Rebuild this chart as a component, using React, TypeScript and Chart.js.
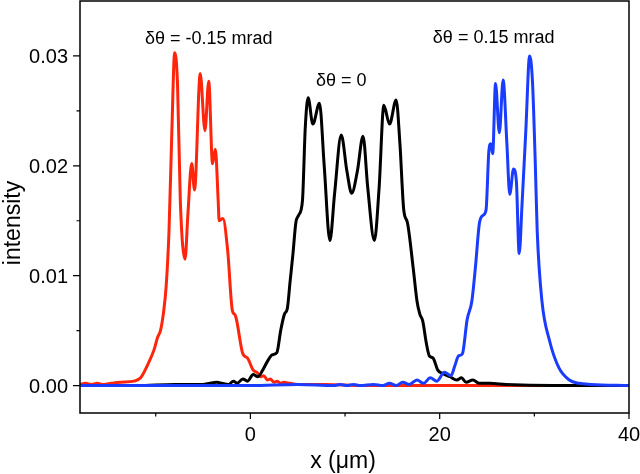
import React, { useEffect, useRef } from "react";
import { Chart, registerables } from "chart.js";

Chart.register(...registerables);

// ---- data (x in µm, intensity) ----
const redX = [-18, -17.4, -16.8, -16.2, -15.5, -14.7, -13.7, -12.3, -11.6, -10.9, -10.2, -9.8, -9.5, -9.2, -8.9, -8.6, -8.3, -8.0, -7.7, -7.4, -6.9, -6.6, -6.2, -5.9, -5.3, -4.8, -4.4, -4.0, -3.7, -3.4, -3.3, -2.9, -2.4, -1.9, -1.6, -0.8, -0.3, 0.3, 0.7, 1.1, 1.4, 1.8, 2.1, 2.5, 2.8, 3.2, 3.5, 4.2, 5.0, 6.0, 8.0, 12.0, 20.0, 30.0, 40.0];
const redY = [0.0001, 0.0002, 0.0001, 0.0002, 0.0001, 0.0002, 0.0003, 0.0004, 0.0007, 0.0018, 0.0032, 0.0044, 0.005, 0.0065, 0.009, 0.014, 0.023, 0.0303, 0.0275, 0.0168, 0.0115, 0.0156, 0.0202, 0.0178, 0.0284, 0.0232, 0.0277, 0.0202, 0.0215, 0.0168, 0.015, 0.0152, 0.0123, 0.0068, 0.0064, 0.0029, 0.0025, 0.0014, 0.0012, 0.0008, 0.0009, 0.0005, 0.0006, 0.0003, 0.0004, 0.0002, 0.0003, 0.0002, 0.0001, 0.0001, 0.0001, 0.0, 0.0, 0.0, 0.0];

const blackX = [-18, -12, -8, -5, -3.5, -3.0, -2.3, -1.8, -1.4, -0.8, -0.3, 0.3, 0.8, 1.3, 1.8, 2.3, 2.8, 3.2, 3.6, 3.9, 4.2, 4.5, 4.8, 5.1, 5.5, 5.8, 6.1, 6.6, 7.3, 7.8, 8.4, 8.9, 9.6, 10.2, 10.7, 11.3, 11.9, 12.4, 13.1, 13.6, 14.1, 14.7, 15.4, 15.8, 16.2, 16.6, 17.2, 17.6, 17.9, 18.2, 18.6, 18.9, 19.3, 19.8, 20.3, 21.1, 21.8, 22.3, 22.8, 23.5, 24.2, 25.3, 27.0, 32.0, 40.0];
const blackY = [0.0, 0.0, 0.0001, 0.0001, 0.0003, 0.0002, 0.0001, 0.0004, 0.0002, 0.0006, 0.0004, 0.001, 0.0008, 0.0014, 0.0022, 0.0028, 0.003, 0.005, 0.0065, 0.007, 0.0095, 0.012, 0.0148, 0.0155, 0.0168, 0.0235, 0.0262, 0.0238, 0.0257, 0.02, 0.0132, 0.0175, 0.0228, 0.0195, 0.0175, 0.0195, 0.0227, 0.018, 0.0132, 0.018, 0.0255, 0.0238, 0.026, 0.022, 0.016, 0.0148, 0.0107, 0.0077, 0.0065, 0.0059, 0.0038, 0.0027, 0.0025, 0.0014, 0.0011, 0.0008, 0.0005, 0.0007, 0.0003, 0.0005, 0.0002, 0.0002, 0.0001, 0.0, 0.0];

const blueX = [-18, -5, 0, 5, 8.8, 9.5, 10.2, 10.9, 11.6, 13.0, 14.0, 14.7, 15.4, 16.1, 16.8, 17.6, 18.3, 19.0, 19.7, 20.5, 21.2, 21.6, 22.0, 22.4, 22.9, 23.4, 23.8, 24.2, 24.6, 24.9, 25.2, 25.4, 25.6, 25.9, 26.3, 26.7, 27.1, 27.4, 27.8, 28.1, 28.4, 28.7, 29.1, 29.5, 29.8, 30.1, 30.3, 30.8, 31.6, 32.6, 33.7, 34.7, 36.0, 40.0];
const blueY = [0.0, 0.0, 0.0, 0.0001, 0.0, 0.0001, 0.0, 0.0001, 0.0, 0.0001, 0.0, 0.0002, 0.0, 0.0003, 0.0001, 0.0005, 0.0002, 0.0007, 0.0004, 0.0012, 0.0009, 0.0018, 0.0027, 0.0029, 0.006, 0.0077, 0.011, 0.0148, 0.0155, 0.016, 0.0214, 0.022, 0.0211, 0.0275, 0.023, 0.0278, 0.022, 0.0174, 0.0197, 0.0186, 0.012, 0.0165, 0.0232, 0.03, 0.0277, 0.0202, 0.0141, 0.0077, 0.0041, 0.0016, 0.0005, 0.0002, 0.0001, 0.0];

const xMajorTicks = [0, 20, 40];
const xMinorTicks = [-10, 10, 30];
const xTickLabels = ["0", "20", "40"];
const yMajorTicks = [0, 0.01, 0.02, 0.03];
const yMinorTicks = [0.005, 0.015, 0.025];
const yTickLabels = ["0.00", "0.01", "0.02", "0.03"];

const annotationTexts = ["δθ = -0.15 mrad", "δθ = 0", "δθ = 0.15 mrad"];
const annotationX = [-4.4, 9.6, 25.7];
const annotationY = [0.0315, 0.0277, 0.0316];

const xTitle = "x (μm)";
const yTitle = "intensity";

const FONT = "'Liberation Sans', Arial, sans-serif";

const pairs = (xs: number[], ys: number[]) => xs.map((x, i) => ({ x, y: ys[i] }));

const zeroPad = (s: any) => {
  s.paddingTop = 0;
  s.paddingBottom = 0;
  s.paddingLeft = 0;
  s.paddingRight = 0;
};

const decorPlugin = {
  id: "decor",
  afterDraw(chart: any) {
    const ctx = chart.ctx;
    const { left, right, top, bottom } = chart.chartArea;
    const xs = chart.scales.x;
    const ys = chart.scales.y;
    ctx.save();
    // frame
    ctx.strokeStyle = "#000";
    ctx.lineWidth = 1.5;
    ctx.strokeRect(left, top, right - left, bottom - top);
    // ticks
    ctx.lineWidth = 1.2;
    ctx.beginPath();
    xMajorTicks.forEach((v) => {
      const p = xs.getPixelForValue(v);
      ctx.moveTo(p, bottom);
      ctx.lineTo(p, bottom + 6);
    });
    xMinorTicks.forEach((v) => {
      const p = xs.getPixelForValue(v);
      ctx.moveTo(p, bottom);
      ctx.lineTo(p, bottom + 3.5);
    });
    yMajorTicks.forEach((v) => {
      const p = ys.getPixelForValue(v);
      ctx.moveTo(left, p);
      ctx.lineTo(left - 7, p);
    });
    yMinorTicks.forEach((v) => {
      const p = ys.getPixelForValue(v);
      ctx.moveTo(left, p);
      ctx.lineTo(left - 3.5, p);
    });
    ctx.stroke();
    // tick labels
    ctx.fillStyle = "#000";
    ctx.font = `20px ${FONT}`;
    ctx.textBaseline = "alphabetic";
    ctx.textAlign = "center";
    xMajorTicks.forEach((v, i) => {
      ctx.fillText(xTickLabels[i], xs.getPixelForValue(v), bottom + 28);
    });
    ctx.textAlign = "right";
    yMajorTicks.forEach((v, i) => {
      ctx.fillText(yTickLabels[i], left - 12, ys.getPixelForValue(v) + 7);
    });
    // annotations
    ctx.font = `18px ${FONT}`;
    ctx.textAlign = "center";
    ctx.textBaseline = "middle";
    annotationTexts.forEach((t, i) => {
      ctx.fillText(t, xs.getPixelForValue(annotationX[i]), ys.getPixelForValue(annotationY[i]));
    });
    // axis titles
    ctx.font = `23px ${FONT}`;
    ctx.fillText(xTitle, 343, 462);
    ctx.translate(14, 223);
    ctx.rotate(-Math.PI / 2);
    ctx.fillText(yTitle, 0, 0);
    ctx.restore();
  },
};

export default function App() {
  const ref = useRef<HTMLCanvasElement | null>(null);
  useEffect(() => {
    document.body.style.margin = "0";
    if (!ref.current) return;
    const chart = new Chart(ref.current, {
      type: "line",
      data: {
        datasets: [
          { label: "0.15", data: pairs(blueX, blueY), borderColor: "#1a3cff", borderWidth: 3, pointRadius: 0, cubicInterpolationMode: "monotone", fill: false },
          { label: "0", data: pairs(blackX, blackY), borderColor: "#000000", borderWidth: 3, pointRadius: 0, cubicInterpolationMode: "monotone", fill: false },
          { label: "-0.15", data: pairs(redX, redY), borderColor: "#ff250c", borderWidth: 3, pointRadius: 0, cubicInterpolationMode: "monotone", fill: false },
        ],
      },
      options: {
        responsive: false,
        animation: false,
        events: [],
        layout: { padding: { top: 1, right: 11, left: 0, bottom: 0 } },
        plugins: { legend: { display: false }, tooltip: { enabled: false }, title: { display: false } },
        scales: {
          x: {
            type: "linear",
            min: -18,
            max: 40,
            grid: { display: false },
            border: { display: false },
            afterBuildTicks: (s: any) => { s.ticks = xMajorTicks.map((v) => ({ value: v })); },
            afterFit: (s: any) => { s.height = 61; zeroPad(s); },
            ticks: { display: false },
          },
          y: {
            type: "linear",
            min: -0.0025,
            max: 0.035,
            grid: { display: false },
            border: { display: false },
            afterBuildTicks: (s: any) => { s.ticks = yMajorTicks.map((v) => ({ value: v })); },
            afterFit: (s: any) => { s.width = 80; zeroPad(s); },
            ticks: { display: false },
          },
        },
      },
      plugins: [decorPlugin],
    });
    return () => chart.destroy();
  }, []);
  return (
    <div style={{ position: "absolute", left: 0, top: 0, width: 640, height: 474, background: "#fff" }}>
      <canvas ref={ref} width={640} height={474} style={{ width: 640, height: 474, display: "block" }} />
    </div>
  );
}
